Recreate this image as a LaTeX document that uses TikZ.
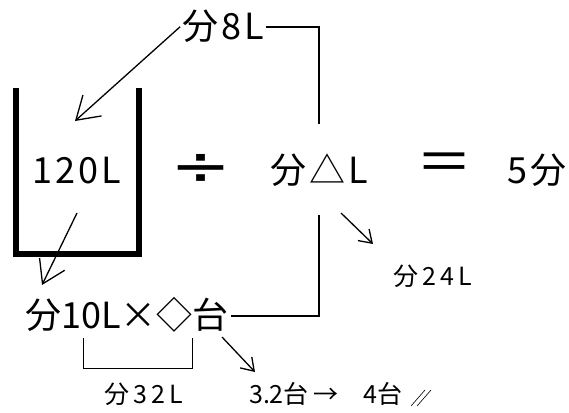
\documentclass[tikz,border=0pt]{standalone}
\usepackage{fontspec}
\newfontfamily\jp[LetterSpace=8]{Noto Sans CJK JP}
\newfontfamily\jptight{Noto Sans CJK JP}
\newfontfamily\jpwide[LetterSpace=16]{Noto Sans CJK JP}
\newfontfamily\opfont{DejaVu Sans}
\usetikzlibrary{arrows.meta}

\begin{document}
\begin{tikzpicture}[x=1pt,y=-1pt,
  big/.style={font=\jp\fontsize{36}{36}\selectfont, inner sep=2pt, anchor=base},
  bigtight/.style={font=\jptight\fontsize{36}{36}\selectfont, inner sep=2pt, anchor=base},
  small/.style={font=\jpwide\fontsize{25}{25}\selectfont, inner sep=2pt, anchor=base},
  smalltight/.style={font=\jptight\fontsize{25}{25}\selectfont, inner sep=2pt, anchor=base},
  divop/.style={font=\opfont\fontsize{56}{56}\selectfont, inner sep=0pt, anchor=center},
  eqop/.style={font=\jptight\fontsize{56}{56}\selectfont, inner sep=0pt, anchor=center},
  link/.style={line width=2pt},
  wall/.style={line width=6pt, line join=miter},
  bigtip/.style={line width=1.3pt, -{Straight Barb[length=22pt,width=28pt,line width=1.3pt]}},
  smalltip/.style={line width=1.3pt, -{Straight Barb[length=12pt,width=16pt,line width=1.3pt]}},
  bracket/.style={line width=1pt}
]
\useasboundingbox (0,0) rectangle (569,412);

% tank
\draw[wall] (15.5,88) -- (15.5,253.5) -- (138.5,253.5) -- (138.5,88);

% texts
\node[big] (n8) at (223,40) {分8L};
\node[big] (n120) at (77,183) {120L};
\node[divop] (dv) at (201,170) {\scalebox{1.3}[1]{÷}};
\node[eqop] (eq) at (444,168) {＝};
\node[big] (ndelta) at (319,183) {分△L};
\node[big] (n5) at (537,183) {5分};
\node[small] (n24) at (433,285) {分24L};
\node[bigtight] (n10) at (127,328) {分10L×◇台};
\node[small] (n32) at (144,403) {分32L};
\node[smalltight] (n32b) at (279,403) {3.2台};
\node[smalltight] (to) at (326,403) {→};
\node[smalltight] (n4) at (383,403) {4台};

% answer mark
\draw[line width=0.6pt] (411,406) -- (425,390) (417,406) -- (431,390);

% connectors
\draw[link] (n8.east) -| ([yshift=27pt]ndelta.north);
\draw[link] (n10.east) ++(0,2) coordinate (b0) -| ([yshift=-27pt]ndelta.south);

\coordinate (t1) at (75,121);
\draw[bigtip] (n8.west) -- (t1);
\coordinate (s2) at (77,213);
\coordinate (t2) at (42,285);
\draw[bigtip] (s2) -- (t2);
\coordinate (s3) at (341,213);
\coordinate (t3) at (373,244);
\draw[smalltip] (s3) -- (t3);
\coordinate (s4) at (222,337);
\coordinate (t4) at (255,372);
\draw[smalltip] (s4) -- (t4);

% bracket under 10L x diamond
\draw[bracket] (83,338) -- (83,368) -- (192,368) -- (192,338);
\end{tikzpicture}
\end{document}
